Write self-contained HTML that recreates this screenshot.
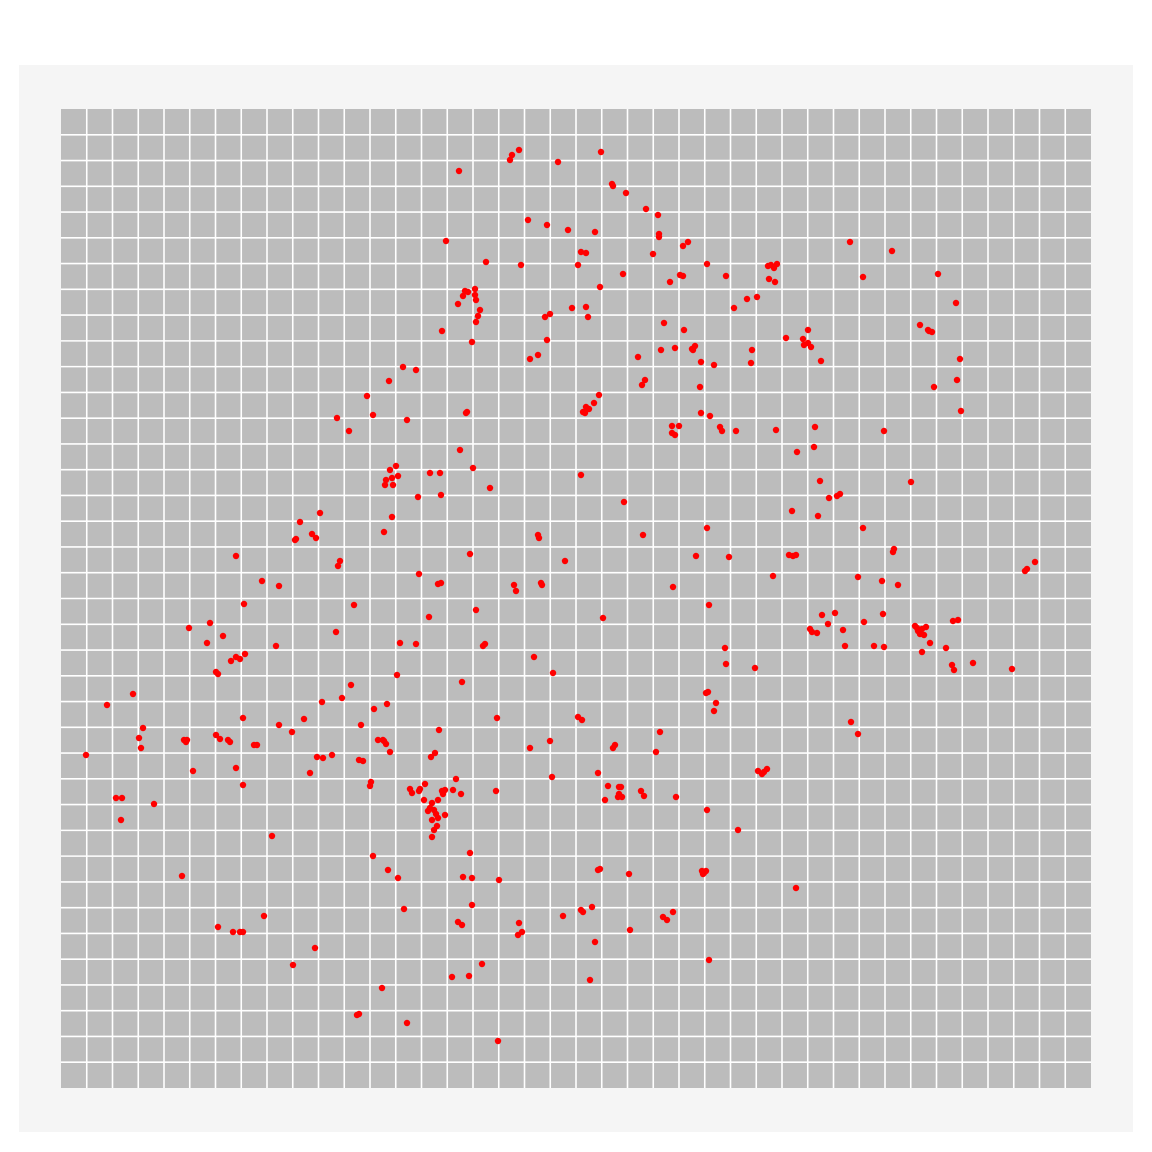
<!DOCTYPE html>
<html><head><meta charset="utf-8"><style>
html,body{margin:0;padding:0;background:#fff;width:1152px;height:1152px;overflow:hidden;font-family:"Liberation Sans",sans-serif}
</style></head><body>
<svg id="chart" width="1152" height="1152" xmlns="http://www.w3.org/2000/svg">
<rect x="19" y="65" width="1114" height="1067" fill="#f5f5f5"/>
<rect x="61" y="109" width="1030" height="979" fill="#bcbcbc"/>
<g id="grid"></g>
<g id="pts"></g>
</svg>
<script>
const xVals=[459,510,512,519,558,601,612,613,626,646,658,528,547,568,595,659,659,446,683,688,581,586,653,486,521,578,707,670,680,683,726,850,892,863,938,768,771,777,774,769,775,757,747,734,600,623,465,463,468,475,475,476,458,480,478,476,442,472,550,545,572,586,588,956,920,929,932,928,664,684,547,538,530,638,661,675,692,695,693,701,714,752,751,786,803,808,804,808,811,821,960,957,934,642,645,700,403,416,389,367,599,594,586,583,589,585,467,466,337,373,407,349,701,710,720,722,736,776,815,961,884,672,679,672,675,460,473,814,797,430,440,390,396,386,392,398,385,393,490,581,911,820,829,837,840,441,418,320,300,392,624,792,818,863,707,295,296,312,316,384,538,539,643,894,893,236,470,565,696,729,789,793,796,340,338,1035,1027,1025,419,262,279,438,441,514,516,541,542,673,773,858,882,898,244,354,709,476,822,835,883,603,429,189,210,223,336,810,812,817,828,843,864,915,918,922,926,920,924,917,958,953,207,276,400,416,483,485,725,845,874,884,930,946,922,534,231,236,240,245,216,218,726,755,553,397,952,954,973,1012,462,351,133,107,706,708,716,714,342,322,387,374,243,304,279,361,497,578,582,143,851,858,660,439,292,139,141,184,186,187,216,220,228,230,254,257,378,384,386,383,550,530,615,613,435,431,390,656,86,317,323,332,359,363,236,193,310,552,598,456,758,762,767,764,371,370,243,608,619,621,619,622,618,605,641,644,676,496,410,412,420,425,419,442,445,443,453,461,116,122,154,121,424,432,438,430,428,434,436,438,432,445,437,434,432,707,272,738,373,470,182,388,398,463,472,499,600,598,629,702,704,706,703,796,404,472,581,583,592,563,663,667,673,264,218,233,240,243,458,462,519,518,522,630,595,315,709,293,482,469,452,590,382,359,357,407,498];
const yVals=[171,160,155,150,162,152,184,186,193,209,215,220,225,230,232,234,237,241,246,242,252,253,254,262,265,265,264,282,275,276,276,242,251,277,274,266,265,264,268,279,282,297,299,308,287,274,291,296,292,289,295,300,304,310,316,322,331,342,314,317,308,307,317,303,325,331,332,330,323,330,340,355,359,357,350,348,349,346,350,362,365,350,363,338,339,330,345,343,347,361,359,380,387,385,380,387,367,370,381,396,395,403,407,412,409,413,412,413,418,415,420,431,413,416,427,431,431,430,427,411,431,426,426,433,435,450,468,447,452,473,473,470,466,480,478,476,485,485,488,475,482,481,498,496,494,495,497,513,522,517,502,511,516,528,528,540,539,534,538,532,535,538,535,549,552,556,554,561,556,557,555,556,555,561,566,562,569,571,574,581,586,584,583,585,591,583,585,587,576,577,581,585,604,605,605,610,615,613,614,618,617,628,623,636,632,629,632,633,624,630,622,626,631,629,627,634,635,628,620,621,643,646,643,644,646,644,648,646,646,647,643,648,652,657,661,657,659,654,672,674,664,668,673,675,665,670,663,669,682,685,694,705,693,692,703,711,698,702,704,709,718,719,725,725,718,717,720,728,722,734,732,730,732,738,748,740,742,740,735,739,740,742,745,745,740,741,744,740,741,748,745,748,753,757,752,752,755,757,758,755,760,761,768,771,773,777,773,779,771,774,769,772,782,786,785,786,787,787,794,797,797,800,791,796,797,791,789,793,789,784,791,791,790,794,790,794,798,798,804,820,800,803,800,808,811,810,814,818,820,815,826,830,837,810,836,830,856,853,876,870,878,877,878,880,869,870,874,871,873,871,874,888,909,905,910,912,907,916,917,920,912,916,927,932,932,932,922,925,923,935,932,930,942,948,960,965,964,976,977,980,988,1014,1015,1023,1041];
const X0=61,X1=1091,Y0=109,Y1=1088,NC=40,NR=38;
// data expressed in reference frame units; linear axis functions
const xDomain=[61,1091], yDomain=[109,1088];
function xs(v){return X0+(v-xDomain[0])/(xDomain[1]-xDomain[0])*(X1-X0);}
function ys(v){return Y0+(v-yDomain[0])/(yDomain[1]-yDomain[0])*(Y1-Y0);}
const NS="http://www.w3.org/2000/svg";
const g=document.getElementById('grid');
for(let i=1;i<NC;i++){const x=X0+i*(X1-X0)/NC;const l=document.createElementNS(NS,'line');


l.setAttribute('x1',x);l.setAttribute('x2',x);l.setAttribute('y1',Y0);l.setAttribute('y2',Y1);l.setAttribute('stroke','#fff');l.setAttribute('stroke-width','1.6');g.appendChild(l);}
for(let i=1;i<NR;i++){const y=Y0+i*(Y1-Y0)/NR;const l=document.createElementNS(NS,'line');


l.setAttribute('x1',X0);l.setAttribute('x2',X1);l.setAttribute('y1',y);l.setAttribute('y2',y);l.setAttribute('stroke','#fff');l.setAttribute('stroke-width','1.6');g.appendChild(l);}
const p=document.getElementById('pts');
for(let i=0;i<xVals.length;i++){const c=document.createElementNS(NS,'circle');


c.setAttribute('cx',xs(xVals[i]));c.setAttribute('cy',ys(yVals[i]));c.setAttribute('r','3.2');c.setAttribute('fill','#ff0000');p.appendChild(c);}
</script>
</body></html>
